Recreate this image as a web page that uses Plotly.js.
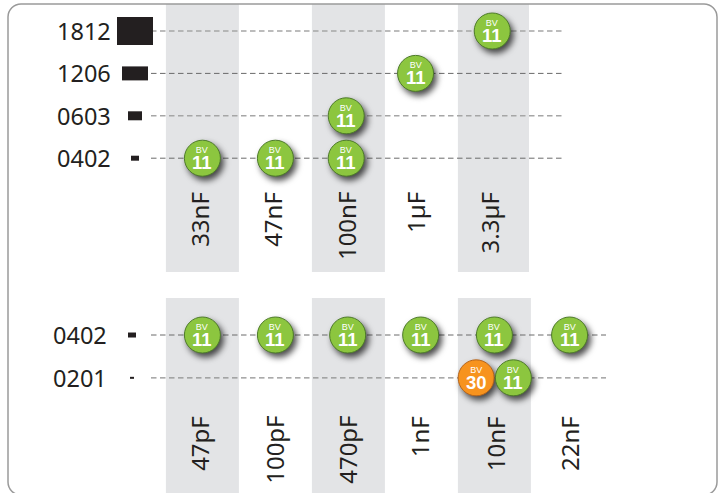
<!DOCTYPE html>
<html>
<head>
<meta charset="utf-8">
<script src="https://cdn.plot.ly/plotly-3.0.1.min.js"></script>
<style>html,body{margin:0;padding:0;background:#fff}#c{width:723px;height:493px}</style>
</head>
<body>
<div id="c"></div>
<script>
// Upper panel
const topRows = ['1812','1206','0603','0402'];
const topRowPos = [0, 1, 2, 3];
const topCaps = ['33nF','47nF','100nF','1µF','3.3µF'];
const topCapPos = [0, 1, 2, 3, 4];
const topCapLabelPos = [0.02, 1.02, 2.03, 2.98, 4];
const topBubbleCol = [3.97, 2.92, 1.97, 0, 1, 1.97];
const topBubbleRow = [0, 1, 2, 3, 3, 3];
const topBubbleBV  = [11, 11, 11, 11, 11, 11];
// Lower panel
const lowRows = ['0402','0201'];
const lowRowPos = [7.17, 8.18];
const lowCaps = ['47pF','100pF','470pF','1nF','10nF','22nF'];
const lowCapPos = [0, 1, 2, 3, 4, 5];
const lowCapLabelPos = [0.02, 1.04, 2.04, 3.04, 4.08, 5.09];
const lowBubbleCol = [0, 1, 1.99, 2.99, 4, 5.03, 3.75, 4.26];
const lowBubbleRow = [7.17, 7.17, 7.17, 7.17, 7.17, 7.17, 8.18, 8.18];
const lowBubbleBV  = [11, 11, 11, 11, 11, 11, 30, 11];
// Package footprint size in pixels (width, height)
const topPkgW = [36, 26, 14, 8], topPkgH = [28, 14, 9, 5];
const lowPkgW = [8, 4],          lowPkgH = [5, 2];

const W = 723, H = 493;
const col = p => (p - 202.4) / 73;
const row = p => (p - 31) / 42.4;
const LABEL = 'Noto Sans, sans-serif', BUB = 'Liberation Sans, Arial, sans-serif';
const GREEN = '#8cc63f', ORANGE = '#f7931e';

const traces = [], shapes = [], annotations = [];

// grey column bands
[[topCapPos, row(4), row(272)], [lowCapPos, row(298), row(493)]].forEach(([cs, y0, y1], panel) => {
  cs.forEach((c, i) => { if (i % 2 === 0) shapes.push({type:'rect', layer:'below', xref:'x', yref:'y',
    x0:c-0.5, x1:(panel === 0 && i === 4) ? col(529) : c+0.5, y0, y1, fillcolor:'#e3e4e6', line:{width:0}}); });
});

// dashed row lines
const lineX0 = col(151), lineTopX1 = col(563), lineLowX1 = col(606);
const addLine = (y, x1, color, width) => traces.push({type:'scatter', mode:'lines', x:[lineX0, x1], y:[y, y],
  line:{color, width, dash:'5.5px 3.5px'}, hoverinfo:'skip', showlegend:false});
topRowPos.forEach((y, i) => addLine(y, lineTopX1, i === 1 || i === 3 ? '#6a6a6a' : '#a6a6a6', i === 1 || i === 3 ? 1 : 1.4));
lowRowPos.forEach((y, i) => addLine(y, lineLowX1, i === 0 ? '#6a6a6a' : '#8f8f8f', i === 0 ? 1 : 1.2));

// package footprints + row labels
const addRow = (name, y, w, h, cx, labelX) => {
  shapes.push({type:'rect', layer:'above', xref:'x', yref:'y', xsizemode:'pixel', ysizemode:'pixel',
    xanchor:cx, yanchor:y, x0:-w/2, x1:w/2, y0:-h/2, y1:h/2, fillcolor:'#231f20', line:{width:0}});
  annotations.push({x:labelX, y, xref:'x', yref:'y', text:name, showarrow:false, xanchor:'right', yanchor:'middle',
    font:{family:LABEL, size:23.5, color:'#231f20'}});
};
topRows.forEach((n, i) => addRow(n, topRowPos[i], topPkgW[i], topPkgH[i], col(135), col(113)));
lowRows.forEach((n, i) => addRow(n, lowRowPos[i], lowPkgW[i], lowPkgH[i], col(132), col(108.5)));

// rotated capacitance labels
const addCap = (text, c, yPx) => annotations.push({x:c, y:row(yPx), xref:'x', yref:'y', text, showarrow:false,
  textangle:-90, xanchor:'center', yanchor:'top', xshift:-4.5, font:{family:LABEL, size:24, color:'#231f20'}});
topCaps.forEach((t, i) => addCap(t, topCapLabelPos[i], 190));
lowCaps.forEach((t, i) => addCap(t, lowCapLabelPos[i], 414));

// voltage bubbles
const addBubbles = (xs, ys, bv) => {
  traces.push({type:'scatter', mode:'markers', x:xs, y:ys, hoverinfo:'skip', showlegend:false,
    marker:{size:36, color:bv.map(v => v === 30 ? ORANGE : GREEN),
      line:{width:1, color:bv.map(v => v === 30 ? '#b5651d' : '#4d7a2a')}}});
  xs.forEach((x, i) => {
    annotations.push({x, y:ys[i], xref:'x', yref:'y', showarrow:false, yshift:-1,
      text:`<span style="font-size:9px">BV</span><br><span style="font-size:18.5px;font-weight:bold">${bv[i]}</span>`,
      align:'center', font:{family:BUB, size:12, color:'#fff'}});
  });
};
addBubbles(topBubbleCol, topBubbleRow, topBubbleBV);
addBubbles(lowBubbleCol, lowBubbleRow, lowBubbleBV);

// rounded frame (paper space); its bottom edge falls just outside the picture
const fx = p => p / W, fy = p => 1 - p / H;
const L = 8, R = 717, T = 4, B = 495, r = 13;
const k = r * 0.45;
const framePath = [`M${fx(L+r)},${fy(B)}`,
  `C${fx(L+k)},${fy(B)} ${fx(L)},${fy(B-k)} ${fx(L)},${fy(B-r)}`,
  `L${fx(L)},${fy(T+r)}`,
  `C${fx(L)},${fy(T+k)} ${fx(L+k)},${fy(T)} ${fx(L+r)},${fy(T)}`,
  `L${fx(R-r)},${fy(T)}`,
  `C${fx(R-k)},${fy(T)} ${fx(R)},${fy(T+k)} ${fx(R)},${fy(T+r)}`,
  `L${fx(R)},${fy(B-r)}`,
  `C${fx(R)},${fy(B-k)} ${fx(R-k)},${fy(B)} ${fx(R-r)},${fy(B)}`].join(' ');
shapes.push({type:'path', layer:'above', xref:'paper', yref:'paper', path:framePath, line:{color:'#9a9a9a', width:1.5}});

const layout = {
  width:W, height:H, margin:{l:0, r:0, t:0, b:0}, paper_bgcolor:'#fff', plot_bgcolor:'#fff', showlegend:false,
  xaxis:{range:[col(0), col(W)], visible:false, fixedrange:true},
  yaxis:{range:[row(H), row(0)], visible:false, fixedrange:true},
  shapes, annotations
};
Plotly.newPlot('c', traces, layout, {displayModeBar:false, staticPlot:true}).then(() => {
  document.querySelectorAll('#c .scatterlayer .points path').forEach(p => {
    p.style.filter = 'drop-shadow(3px 4px 3px rgba(0,0,0,0.7))';
  });
});
</script>
</body>
</html>
